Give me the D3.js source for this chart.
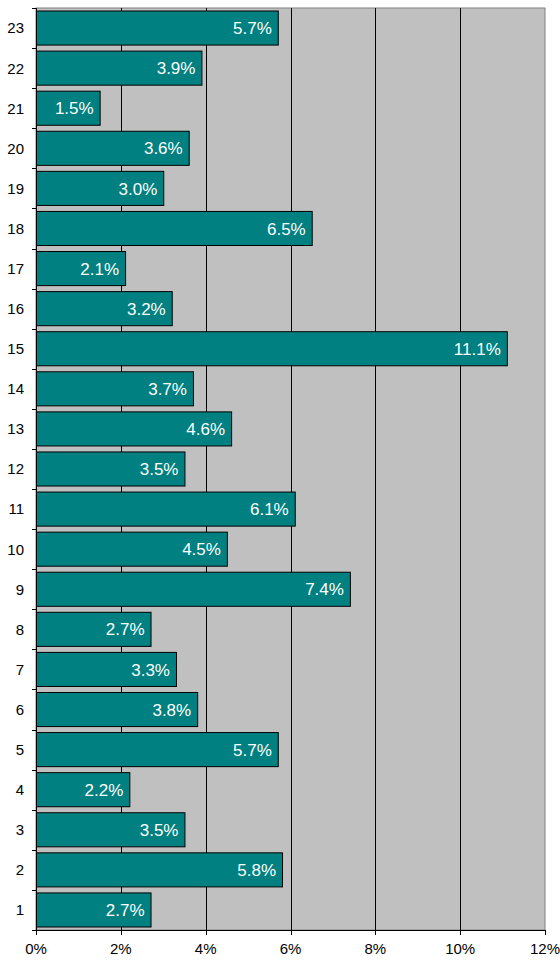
<!DOCTYPE html>
<html>
<head>
<meta charset="utf-8">
<script src="https://cdn.jsdelivr.net/npm/d3@7"></script>
<style>
  body { margin: 0; background: #fff; }
  svg text { font-family: "Liberation Sans", Arial, sans-serif; }
</style>
</head>
<body>
<svg class="chart" width="560" height="962"></svg>
<script>
// categories, top to bottom
const categories = ['23','22','21','20','19','18','17','16','15','14','13','12','11','10','9','8','7','6','5','4','3','2','1'];
// percent values in the same order
const values = [5.7, 3.9, 1.5, 3.6, 3.0, 6.5, 2.1, 3.2, 11.1, 3.7, 4.6, 3.5, 6.1, 4.5, 7.4, 2.7, 3.3, 3.8, 5.7, 2.2, 3.5, 5.8, 2.7];
const xTicks = [0, 2, 4, 6, 8, 10, 12];

const svg = d3.select('.chart');
const margin = { top: 8, right: 15, bottom: 32, left: 36 };
const width = +svg.attr('width');
const height = +svg.attr('height');
const innerWidth = width - margin.left - margin.right;
const innerHeight = height - margin.top - margin.bottom;

const xScale = d3.scaleLinear().domain([0, 12]).range([0, innerWidth]);
const yScale = d3.scaleBand()
    .domain(categories)
    .range([0, innerHeight])
    .paddingInner(0.15)
    .paddingOuter(0.075);

const g = svg.append('g')
    .attr('transform', `translate(${margin.left}, ${margin.top})`);

// plot background
g.append('rect')
    .attr('width', innerWidth)
    .attr('height', innerHeight)
    .attr('fill', '#c0c0c0')
    .attr('stroke', '#808080')
    .attr('stroke-width', 1);

// vertical gridlines
g.append('g')
    .selectAll('line')
    .data(xTicks.filter(d => d > 0 && d < 12))
    .join('line')
    .attr('x1', d => Math.round(xScale(d)) + 0.5)
    .attr('x2', d => Math.round(xScale(d)) + 0.5)
    .attr('y1', 0)
    .attr('y2', innerHeight)
    .attr('stroke', '#000')
    .attr('stroke-width', 1);

// bars
const bars = g.append('g')
    .selectAll('g')
    .data(categories.map((c, i) => ({ cat: c, value: values[i] })))
    .join('g')
    .attr('transform', d => `translate(0, ${yScale(d.cat)})`);

bars.append('rect')
    .attr('x', 0.5)
    .attr('y', 0)
    .attr('width', d => xScale(d.value))
    .attr('height', yScale.bandwidth())
    .attr('fill', '#008080')
    .attr('stroke', '#000')
    .attr('stroke-width', 1);

bars.append('text')
    .attr('x', d => xScale(d.value) - 6)
    .attr('y', yScale.bandwidth() / 2)
    .attr('dy', '0.36em')
    .attr('text-anchor', 'end')
    .attr('fill', '#fff')
    .attr('font-size', 17)
    .text(d => d.value.toFixed(1) + '%');

// y axis: ticks between bands
const yAxis = g.append('g');
yAxis.append('line')
    .attr('x1', 0.5).attr('x2', 0.5)
    .attr('y1', 0).attr('y2', innerHeight)
    .attr('stroke', '#000');
yAxis.selectAll('line.tick')
    .data(d3.range(0, categories.length + 1))
    .join('line')
    .attr('class', 'tick')
    .attr('x1', -4).attr('x2', 0)
    .attr('y1', i => Math.round(i * innerHeight / categories.length) + 0.5)
    .attr('y2', i => Math.round(i * innerHeight / categories.length) + 0.5)
    .attr('stroke', '#000');
yAxis.selectAll('text')
    .data(categories)
    .join('text')
    .attr('x', -12)
    .attr('y', d => yScale(d) + yScale.bandwidth() / 2)
    .attr('dy', '0.36em')
    .attr('text-anchor', 'end')
    .attr('font-size', 15)
    .attr('fill', '#000')
    .text(d => d);

// x axis
const xAxis = g.append('g').attr('transform', `translate(0, ${innerHeight})`);
xAxis.append('line')
    .attr('x1', 0).attr('x2', innerWidth)
    .attr('y1', 0.5).attr('y2', 0.5)
    .attr('stroke', '#000');
xAxis.selectAll('line.tick')
    .data(xTicks)
    .join('line')
    .attr('class', 'tick')
    .attr('x1', d => Math.round(xScale(d)) + 0.5)
    .attr('x2', d => Math.round(xScale(d)) + 0.5)
    .attr('y1', 0).attr('y2', 5)
    .attr('stroke', '#000');
xAxis.selectAll('text')
    .data(xTicks)
    .join('text')
    .attr('x', d => xScale(d))
    .attr('y', 24)
    .attr('text-anchor', 'middle')
    .attr('font-size', 15)
    .attr('fill', '#000')
    .text(d => d + '%');
</script>
</body>
</html>
